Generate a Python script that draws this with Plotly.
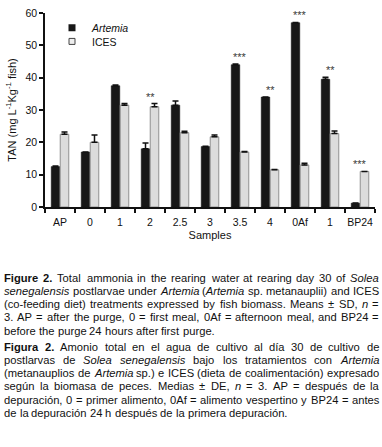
import re
import plotly.graph_objects as go

samples = ["AP", "0", "1", "2", "2.5", "3", "3.5", "4", "0Af", "1", "BP24"]
artemia = [12.5, 17.0, 37.5, 18.0, 31.5, 18.7, 44.0, 34.0, 57.0, 39.5, 1.2]
artemia_sd = [0.2, 0.0, 0.2, 1.8, 1.3, 0.1, 0.2, 0.0, 0.1, 0.6, 0.0]
ices = [22.5, 20.0, 31.5, 31.0, 23.0, 21.7, 17.0, 11.5, 13.0, 22.7, 11.0]
ices_sd = [0.7, 2.3, 0.5, 1.0, 0.4, 0.6, 0.2, 0.1, 0.5, 0.8, 0.0]
signif = ["", "", "", "**", "", "", "***", "**", "***", "**", "***"]
yticks = [0, 10, 20, 30, 40, 50, 60]

caption_en = [
    "<b>Figure 2.</b> Total ammonia in the rearing water at rearing day 30 of <i>Solea</i>",
    "<i>senegalensis</i> postlarvae under <i>Artemia</i> (<i>Artemia</i> sp. metanauplii) and ICES",
    "(co-feeding diet) treatments expressed by fish biomass. Means ± SD, <i>n</i> =",
    "3. AP = after the purge, 0 = first meal, 0Af = afternoon meal, and BP24 =",
    "before the purge 24 hours after first purge.",
]
caption_es = [
    "<b>Figura 2.</b> Amonio total en el agua de cultivo al día 30 de cultivo de",
    "postlarvas de <i>Solea senegalensis</i> bajo los tratamientos con <i>Artemia</i>",
    "(metanauplios de <i>Artemia</i> sp.) e ICES (dieta de coalimentación) expresado",
    "según la biomasa de peces. Medias ± DE, <i>n</i> = 3. AP = después de la",
    "depuración, 0 = primer alimento, 0Af =  alimento vespertino y BP24 = antes",
    "de la depuración 24 h después de la primera depuración.",
]

FONT = "Liberation Sans, Arial, sans-serif"
W, H = 382, 447
ML, MR, MT, MB = 45, 7, 9, 240
PW, PH = W - ML - MR, H - MT - MB

# Arial / Liberation Sans advance widths (1/1000 em), used to justify caption lines
REG = {" ": 278, "(": 333, ")": 333, ",": 278, "-": 333, ".": 278, "=": 584, "±": 584,
       "*": 389, "0": 556, "1": 556, "2": 556, "3": 556, "4": 556, "5": 556, "6": 556,
       "7": 556, "8": 556, "9": 556, "A": 667, "B": 667, "C": 722, "D": 722, "E": 667,
       "F": 611, "I": 278, "M": 833, "P": 667, "S": 667, "T": 611,
       "a": 556, "b": 556, "c": 500, "d": 556, "e": 556, "f": 278, "g": 556, "h": 556,
       "i": 222, "j": 222, "k": 500, "l": 222, "m": 833, "n": 556, "o": 556, "p": 556,
       "q": 556, "r": 333, "s": 500, "t": 278, "u": 556, "v": 500, "w": 722, "x": 500,
       "y": 500, "z": 500, "á": 556, "é": 556, "í": 278, "ó": 556, "ú": 556}
BOLD = {" ": 278, ".": 278, "2": 556, "F": 611, "i": 278, "g": 611, "u": 611, "r": 389,
        "e": 556, "a": 556}


def parse(line):
    chars, b, it = [], False, False
    for tok in re.split(r"(</?[bi]>)", line):
        if tok == "<b>": b = True
        elif tok == "</b>": b = False
        elif tok == "<i>": it = True
        elif tok == "</i>": it = False
        else:
            chars += [(c, b, it) for c in tok]
    words, cur = [], []
    for c in chars:
        if c[0] == " ":
            if cur: words.append(cur); cur = []
        else:
            cur.append(c)
    if cur: words.append(cur)
    out = []
    for wd in words:
        html, width, k = "", 0, 0
        while k < len(wd):
            j = k
            while j < len(wd) and wd[j][1:] == wd[k][1:]:
                j += 1
            seg = "".join(c for c, _, _ in wd[k:j])
            if wd[k][2]: seg = "<i>" + seg + "</i>"
            if wd[k][1]: seg = "<b>" + seg + "</b>"
            html += seg
            k = j
        for c, bb, _ in wd:
            width += (BOLD.get(c, 611) if bb else REG.get(c, 556)) / 1000
        out.append((html, width))
    return out


X0, X1 = 3, 378
paras = [(caption_en, 279.5), (caption_es, 350)]
LSTEP = 13.4
parsed = [[parse(l) for l in p] for p, _ in paras]
nat = [sum(w for _, w in ws) + 0.278 * (len(ws) - 1)
       for p in parsed for ws in p[:-1]]
FS = (X1 - X0 - 3) / max(nat)

xs = list(range(len(samples)))
fig = go.Figure()
fig.add_bar(x=xs, y=artemia, name="Artemia", showlegend=False, hoverinfo="skip",
            marker=dict(color="#171717", line=dict(color="#171717", width=0.5)),
            error_y=dict(type="data", symmetric=False, array=artemia_sd,
                         arrayminus=[0] * len(xs), color="#111", thickness=1.5, width=3))
fig.add_bar(x=xs, y=ices, name="ICES", showlegend=False, hoverinfo="skip",
            marker=dict(color="#dcdcdc", line=dict(color="#8f8f8f", width=1)),
            error_y=dict(type="data", symmetric=False, array=ices_sd,
                         arrayminus=[0] * len(xs), color="#111", thickness=1.5, width=3))
fig.add_scatter(x=[None], y=[None], mode="markers", name="<i>Artemia</i>", legend="legend",
                marker=dict(symbol="square", size=7, color="#171717"))
fig.add_scatter(x=[None], y=[None], mode="markers", name="ICES", legend="legend2",
                marker=dict(symbol="square", size=6, color="#eeeeee",
                            line=dict(color="#444", width=1)))

for i, s in enumerate(signif):
    if s:
        top = max(artemia[i] + artemia_sd[i], ices[i] + ices_sd[i])
        fig.add_annotation(x=i, y=top, text=s, showarrow=False, yanchor="bottom",
                           yshift=-1, font=dict(family=FONT, size=11, color="#3a3a3a"))

for (plines, ystart), pw in zip(paras, parsed):
    for li, words in enumerate(pw):
        yp = ystart + li * LSTEP
        widths = [w * FS for _, w in words]
        last = li == len(pw) - 1
        gap = 0.278 * FS if last else (X1 - X0 - sum(widths)) / (len(words) - 1)
        xp = X0
        for (html, _), wpx in zip(words, widths):
            fig.add_annotation(xref="paper", yref="paper", x=(xp - 1 - ML) / PW,
                               y=(H - MB - yp) / PH, text=html, showarrow=False,
                               xanchor="left", yanchor="middle", align="left",
                               font=dict(family=FONT, size=FS, color="#111"))
            xp += wpx + gap

fig.update_layout(
    width=W, height=H, margin=dict(l=ML, r=MR, t=MT, b=MB),
    paper_bgcolor="white", plot_bgcolor="white",
    barmode="group", bargap=0.4, bargroupgap=0.05, hovermode=False,
    font=dict(family=FONT, size=10, color="#111"),
    legend=dict(x=(52 - ML) / PW, y=(H - MB - 24) / PH, xanchor="left", yanchor="middle",
                bgcolor="rgba(0,0,0,0)", font=dict(size=10.5), itemwidth=30),
    legend2=dict(x=(52 - ML) / PW, y=(H - MB - 38) / PH, xanchor="left", yanchor="middle",
                 bgcolor="rgba(0,0,0,0)", font=dict(size=10.5), itemwidth=30),
)
fig.update_xaxes(range=[-0.5, len(xs) - 0.5], tickmode="array", tickvals=xs,
                 ticktext=samples, showline=True, linecolor="#111", linewidth=1.5,
                 ticks="", showgrid=False, zeroline=False, ticklabelstandoff=5,
                 title=dict(text="Samples", standoff=4, font=dict(size=11)),
                 tickfont=dict(size=10.5),
                 minor=dict(tickmode="array",
                            tickvals=[v - 0.5 for v in xs] + [len(xs) - 0.5],
                            ticks="outside", ticklen=4, tickcolor="#111", tickwidth=1.5))
fig.update_yaxes(range=[0, 60], tickvals=yticks, showline=True, linecolor="#111",
                 linewidth=1.5, ticks="outside", ticklen=4, tickcolor="#111",
                 tickwidth=1.5, showgrid=False, zeroline=False,
                 title=dict(text="TAN (mg L<sup>-1</sup>Kg<sup>-1</sup> fish)",
                            standoff=7, font=dict(size=11)),
                 tickfont=dict(size=10.5))

fig.write_html("out.html", config={"displayModeBar": False},
               post_script="document.body.style.margin='0';")
